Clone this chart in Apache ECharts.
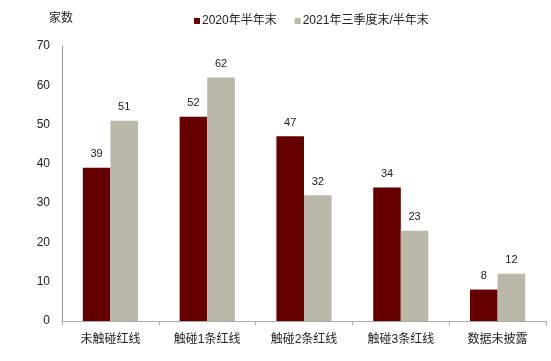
<!DOCTYPE html>
<html><head><meta charset="utf-8">
<script src="https://cdn.jsdelivr.net/npm/echarts@6/dist/echarts.min.js"></script>
<style>html,body{margin:0;padding:0;background:#fff}#c{width:551px;height:361px}</style>
</head><body><div id="c"></div>
<script>
const categories = ['未触碰红线','触碰1条红线','触碰2条红线','触碰3条红线','数据未披露'];
const seriesNames = ['2020年半年末','2021年三季度末/半年末'];
const values2020 = [39, 52, 47, 34, 8];
const values2021 = [51, 62, 32, 23, 12];
const yTicks = [0, 10, 20, 30, 40, 50, 60, 70];

const font = 'Arial, "Liberation Sans", "Noto Sans CJK SC", sans-serif';
const chart = echarts.init(document.getElementById('c'));
const lbl = {show: true, position: 'top', distance: 8, color: '#222', fontSize: 11, fontFamily: font};
chart.setOption({
  animation: false,
  textStyle: {fontFamily: font},
  title: {text: '家数', left: 44, top: 8, textStyle: {fontSize: 12, fontWeight: 'normal', color: '#222', fontFamily: font}},
  legend: {
    data: seriesNames, top: 10, left: 189, itemWidth: 6, itemHeight: 6, itemGap: 18,
    icon: 'rect', textStyle: {fontSize: 12, color: '#222', fontFamily: font, padding: [0, 0, 0, -3]}
  },
  grid: {left: 62, right: 5, top: 46, bottom: 40},
  xAxis: {
    type: 'category', data: categories,
    axisLine: {lineStyle: {color: '#aaa'}},
    axisTick: {show: true, length: 4, lineStyle: {color: '#aaa'}},
    axisLabel: {color: '#222', fontSize: 12, margin: 13, fontFamily: font}
  },
  yAxis: {
    type: 'value', min: yTicks[0], max: yTicks[yTicks.length - 1], interval: 10,
    axisLine: {show: true, lineStyle: {color: '#999'}},
    axisTick: {show: false},
    splitLine: {show: false},
    axisLabel: {color: '#222', fontSize: 12, margin: 12, fontFamily: font}
  },
  series: [
    {name: seriesNames[0], type: 'bar', data: values2020, barWidth: '28.5%', barGap: '0%',
     itemStyle: {color: '#660000'}, label: lbl},
    {name: seriesNames[1], type: 'bar', data: values2021, barWidth: '28.5%',
     itemStyle: {color: '#BAB9A9'}, label: lbl}
  ]
});
</script></body></html>
